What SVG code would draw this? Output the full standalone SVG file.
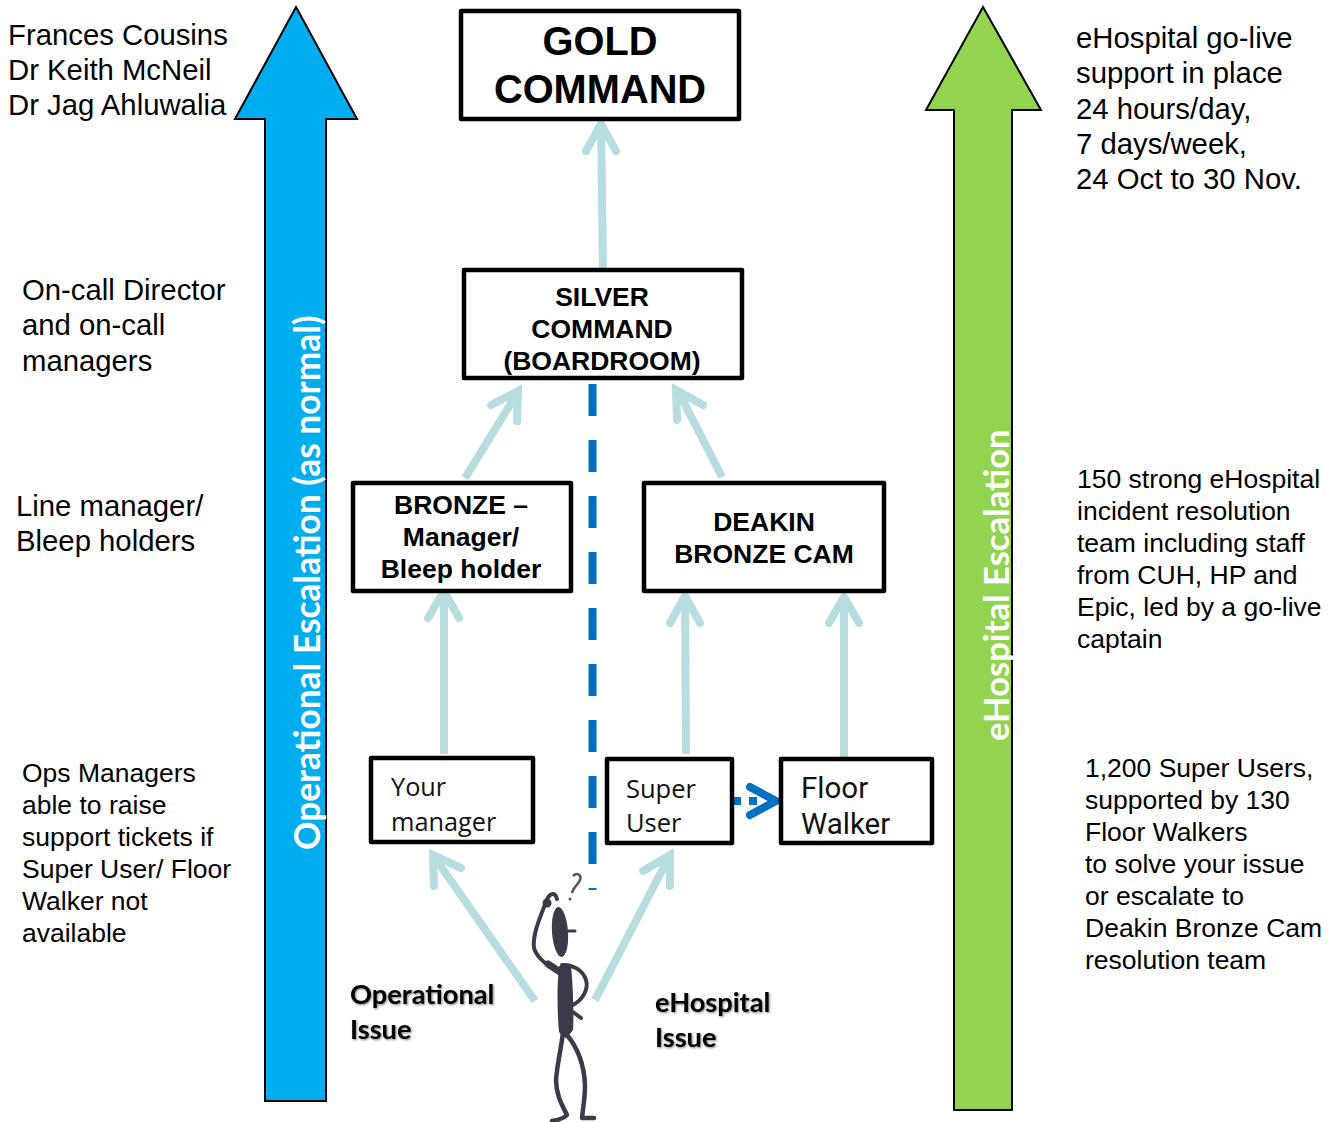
<svg xmlns="http://www.w3.org/2000/svg" width="1336" height="1122" viewBox="0 0 1336 1122">
<style>
text{font-family:"Liberation Sans",Arial,sans-serif;fill:#000}
.note{font-size:29.300px}
.note2{font-size:26.500px}
.box{fill:#fff;stroke:#000;stroke-width:4.5;stroke-linejoin:round}
.b{font-weight:bold;text-anchor:middle}
.seg{font-family:"Open Sans","DejaVu Sans",sans-serif;fill:#111}
.seg2{font-family:Roboto,"Open Sans",sans-serif;fill:#111;font-size:29.500px}
.conn{fill:none;stroke:#b7dde1;stroke-width:8;stroke-linecap:butt}
.head{fill:none;stroke:#b7dde1;stroke-width:8;stroke-linecap:round;stroke-linejoin:miter}
.sh{font-family:Lato,"Open Sans",sans-serif;font-weight:bold;font-size:27.200px}
.ink{fill:none;stroke:#3a3a4a;stroke-linecap:round;stroke-linejoin:round}
.vert{font-family:Lato,"Open Sans",sans-serif;font-weight:bold;fill:#fff}
</style>
<defs><filter id="soft" x="-5%" y="-20%" width="110%" height="140%"><feDropShadow dx="1" dy="1" stdDeviation="1" flood-color="#000" flood-opacity=".5"/></filter></defs>

<g id="operational-arrow">
<path d="M296 7L357 119H326V1101H265V119H235Z" fill="#00aeef" stroke="#000" stroke-width="2"/>
<text class="vert" font-size="35.300" transform="translate(320,850) rotate(-90)">Operational Escalation (as normal)</text>
</g>
<g id="ehospital-arrow">
<path d="M983 7L1041 110H1012V1110H954V110H926Z" fill="#92d350" stroke="#000" stroke-width="2"/>
<text class="vert" font-size="34.600" transform="translate(1009,741) rotate(-90)">eHospital Escalation</text>
</g>

<g id="connectors">
<path class="conn" d="M603 270L601 124"/><path class="head" d="M586 151L601 124L616 151"/>
<path class="conn" d="M465 478L518 392"/><path class="head" d="M491 405L518 391L517 421"/>
<path class="conn" d="M722 477L678 391"/><path class="head" d="M677 420L676 390L703 405"/>
<path class="conn" d="M444 754V592"/><path class="head" d="M428 618L444 591L459 618"/>
<path class="conn" d="M686 754L685 597"/><path class="head" d="M670 623L685 596L700 623"/>
<path class="conn" d="M844 758V598"/><path class="head" d="M829 623L844 597L859 623"/>
<path class="conn" d="M535 1001L435 858"/><path class="head" d="M434 886L433 855L461 868"/>
<path class="conn" d="M595 1000L669 857"/><path class="head" d="M643 871L670 855L670 886"/>
<path d="M592.500 384V890" fill="none" stroke="#0070c0" stroke-width="8" stroke-dasharray="32 24"/>
<path d="M733 801H757" fill="none" stroke="#0070c0" stroke-width="8" stroke-dasharray="8 8"/>
<path d="M750 787L776 801L750 815" fill="none" stroke="#0070c0" stroke-width="8" stroke-linecap="round"/>
</g>

<g id="gold"><rect class="box" x="461" y="11" width="278" height="108"/><text class="b" font-size="39.800"><tspan x="600" y="55">GOLD</tspan><tspan x="600" y="103">COMMAND</tspan></text></g>
<g id="silver"><rect class="box" x="464" y="270" width="278" height="108"/><text class="b" font-size="26.500"><tspan x="602" y="306">SILVER</tspan><tspan x="602" y="338">COMMAND</tspan><tspan x="602" y="370">(BOARDROOM)</tspan></text></g>
<g id="bronze"><rect class="box" x="353" y="483" width="218" height="108"/><text class="b" font-size="26.500"><tspan x="461" y="514">BRONZE –</tspan><tspan x="461" y="546">Manager/</tspan><tspan x="461" y="578">Bleep holder</tspan></text></g>
<g id="deakin"><rect class="box" x="644" y="483" width="240" height="108"/><text class="b" font-size="26.500"><tspan x="764" y="531">DEAKIN</tspan><tspan x="764" y="563">BRONZE CAM</tspan></text></g>
<g id="your-manager"><rect class="box" x="371" y="758" width="162" height="84"/><text class="seg" font-size="25.300"><tspan x="391" y="796">Your</tspan><tspan x="391" y="831">manager</tspan></text></g>
<g id="super-user"><rect class="box" x="607" y="759" width="125" height="84"/><text class="seg" font-size="25.500"><tspan x="626" y="798">Super</tspan><tspan x="626" y="832">User</tspan></text></g>
<g id="floor-walker"><rect class="box" x="781" y="759" width="151" height="84"/><text class="seg2"><tspan x="801" y="798">Floor</tspan><tspan x="801" y="834">Walker</tspan></text></g>

<g id="notes-left">
<text class="note"><tspan x="8" y="45">Frances Cousins</tspan><tspan x="8" y="80">Dr Keith McNeil</tspan><tspan x="8" y="115">Dr Jag Ahluwalia</tspan></text>
<text class="note"><tspan x="22" y="300">On-call Director</tspan><tspan x="22" y="335">and on-call</tspan><tspan x="22" y="371">managers</tspan></text>
<text class="note"><tspan x="16" y="516">Line manager/</tspan><tspan x="16" y="551">Bleep holders</tspan></text>
<text class="note2"><tspan x="22" y="782">Ops Managers</tspan><tspan x="22" y="814">able to raise</tspan><tspan x="22" y="846">support tickets if</tspan><tspan x="22" y="878">Super User/ Floor</tspan><tspan x="22" y="910">Walker not</tspan><tspan x="22" y="942">available</tspan></text>
</g>
<g id="notes-right">
<text class="note"><tspan x="1076" y="48">eHospital go-live</tspan><tspan x="1076" y="83">support in place</tspan><tspan x="1076" y="119">24 hours/day,</tspan><tspan x="1076" y="154">7 days/week,</tspan><tspan x="1076" y="189">24 Oct to 30 Nov.</tspan></text>
<text class="note2"><tspan x="1077" y="488">150 strong eHospital</tspan><tspan x="1077" y="520">incident resolution</tspan><tspan x="1077" y="552">team including staff</tspan><tspan x="1077" y="584">from CUH, HP and</tspan><tspan x="1077" y="616">Epic, led by a go-live</tspan><tspan x="1077" y="648">captain</tspan></text>
<text class="note2"><tspan x="1085" y="777">1,200 Super Users,</tspan><tspan x="1085" y="809">supported by 130</tspan><tspan x="1085" y="841">Floor Walkers</tspan><tspan x="1085" y="873">to solve your issue</tspan><tspan x="1085" y="905">or escalate to</tspan><tspan x="1085" y="937">Deakin Bronze Cam</tspan><tspan x="1085" y="969">resolution team</tspan></text>
</g>

<g id="issue-labels" filter="url(#soft)">
<text class="sh"><tspan x="350" y="1004">Operational</tspan><tspan x="350" y="1039">Issue</tspan></text>
<text class="sh"><tspan x="655" y="1012">eHospital</tspan><tspan x="655" y="1047">Issue</tspan></text>
</g>

<g id="figure">
<ellipse cx="560" cy="932" rx="8" ry="25" fill="#3a3a4a" transform="rotate(-4 560 932)"/>
<path d="M568 931H575" class="ink" stroke-width="3"/>
<path d="M558 971C548 966 537 958 534 948C532 935 541 915 546 902C549 893 555 891 557 899" class="ink" stroke-width="4"/>
<path d="M548 964L560 972" class="ink" stroke-width="7"/>
<circle cx="547" cy="903" r="4.500" fill="#3a3a4a"/>
<path d="M562 965C572 964 583 970 586 980C589 990 582 1000 573 1005" class="ink" stroke-width="4"/>
<path d="M573 1012L581 1018" class="ink" stroke-width="4"/>
<path d="M559 966H571C573 985 574 1015 573 1030C570 1034 568 1036 566 1038C563 1037 561 1034 559 1032C557 1010 557 985 559 966Z" fill="#3a3a4a"/>
<path d="M563 1032C561 1050 557 1065 556 1080C556 1095 562 1105 567 1115C563 1119 558 1120 552 1121" class="ink" stroke-width="4.500"/>
<path d="M567 1035C577 1047 584 1062 585 1085C585 1098 583 1108 582 1118H594" class="ink" stroke-width="4.500"/>
<path d="M573 876C577 872 582 875 580 880C578 885 573 887 572 893" fill="none" stroke="#555" stroke-width="2.500"/>
<circle cx="570" cy="899" r="1.500" fill="#555"/>
</g>
</svg>
